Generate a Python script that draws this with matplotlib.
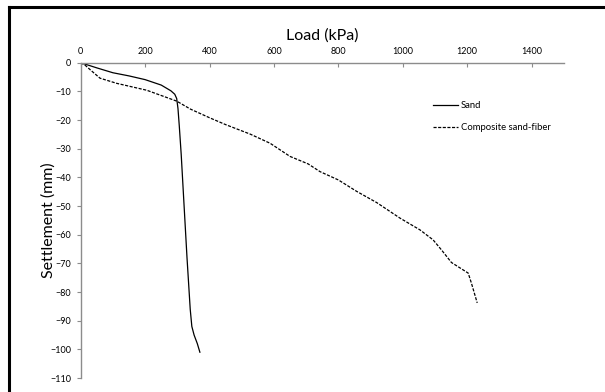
import matplotlib
matplotlib.use("Agg")
import matplotlib.pyplot as plt
from matplotlib.lines import Line2D

plt.rcParams['font.family'] = ['Lato', 'DejaVu Sans']

sand_load = [0, 50, 100, 150, 200, 250, 280, 292, 298, 302, 306, 312, 320, 330, 340, 345, 352, 362, 370]
sand_settle = [0, -1.8, -3.5, -4.6, -5.9, -7.8, -9.8, -11.0, -12.5, -16, -22, -32, -48, -68, -86, -92, -95, -98, -101]

comp_load = [0, 15, 30, 60, 112, 205, 298, 341, 400, 450, 526, 588, 650, 706, 743, 800, 857, 919, 991, 1053, 1094, 1120, 1151, 1203, 1213, 1231]
comp_settle = [0, -1.0, -2.5, -5.4, -7.2, -9.6, -13.4, -16.2, -19.2, -21.6, -24.9, -28.1, -32.7, -35.3, -38.0, -40.9, -44.9, -48.8, -54.2, -58.3, -61.8, -65.3, -69.7, -73.4, -76.9, -83.8]

xticks = [0, 200, 400, 600, 800, 1000, 1200, 1400]
yticks = [0, -10, -20, -30, -40, -50, -60, -70, -80, -90, -100, -110]

fig = plt.figure(figsize=(6.05, 3.92), dpi=100)
ax = fig.add_axes([0.1334, 0.0357, 0.932 - 0.1334, 0.840 - 0.0357])

ax.plot(sand_load, sand_settle, color='black', lw=0.9, label='Sand')
ax.plot(comp_load, comp_settle, color='black', lw=0.9, linestyle=(0, (2.5, 1.2)), label='Composite sand-fiber')

ax.set_xlim(0, 1500)
ax.set_ylim(-110, 0)
ax.set_xticks(xticks)
ax.set_yticks(yticks)
ax.xaxis.tick_top()
ax.xaxis.set_label_position('top')
for s in ['bottom', 'right']:
    ax.spines[s].set_visible(False)
for s in ['top', 'left']:
    ax.spines[s].set_color('#8c8c8c')
    ax.spines[s].set_linewidth(1.0)
ax.tick_params(axis='x', direction='in', length=3, color='#8c8c8c', labelsize=6.5, pad=5)
ax.tick_params(axis='y', direction='out', length=3, color='#8c8c8c', labelsize=6.5, pad=4)
ax.set_xlabel('Load (kPa)', fontsize=11.5, labelpad=5)
ax.set_ylabel('Settlement (mm)', fontsize=11.5, labelpad=-4)

leg = ax.legend(loc='upper left', bbox_to_anchor=(0.712, 0.905), frameon=False,
                fontsize=6.8, handlelength=2.6, handletextpad=0.3, labelspacing=1.35)

fig.add_artist(Line2D([9/605, 9/605], [0, 1 - 7/392], transform=fig.transFigure, color='black', lw=2.2))
fig.add_artist(Line2D([9/605, 1.0], [1 - 7/392, 1 - 7/392], transform=fig.transFigure, color='black', lw=2.2))

fig.savefig('out.png', dpi=100)
